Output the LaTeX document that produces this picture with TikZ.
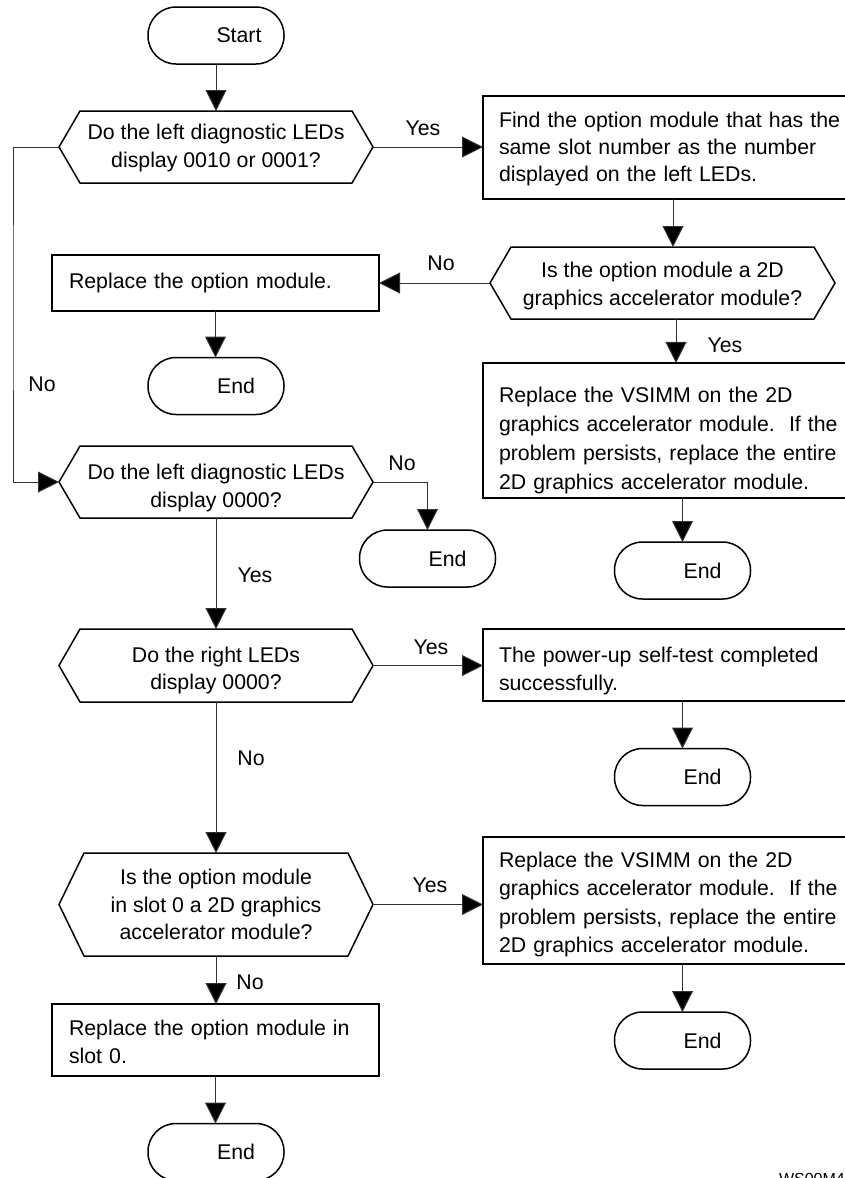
\documentclass[tikz,border=0pt]{standalone}
\usepackage{fontspec}
\setmainfont{Liberation Sans}
\usetikzlibrary{arrows.meta}
\newcommand\hexa[2]{\draw[shapeline] (#1.west) -- ([xshift=#2]#1.north west) -- ([xshift=-#2]#1.north east) -- (#1.east) -- ([xshift=-#2]#1.south east) -- ([xshift=#2]#1.south west) -- cycle;}
\newcommand\dn[1]{\rule{0pt}{#1}}
\tikzset{
  every node/.style={font=\fontsize{21.3}{27.5}\selectfont, outer sep=0pt},
  shapeline/.style={draw=black, line width=1.5pt, line join=miter},
  hexnode/.style={rectangle, draw=none, align=center, inner sep=0pt, minimum width=314pt, minimum height=72pt},
  term/.style={rectangle, draw=black, line width=1.5pt, rounded corners=28pt, minimum width=136pt, minimum height=57pt, inner sep=0pt},
  rbox/.style={rectangle, draw=black, line width=1.5pt, text width=348pt, inner xsep=16pt, inner ysep=4pt, align=left},
  lbox/.style={rectangle, draw=black, line width=1.5pt, text width=293pt, inner xsep=17pt, inner ysep=4pt, align=left},
  arr/.style={draw=black!80, line width=1pt, -{Triangle[length=21pt,width=21pt,fill=black]}},
  lbl/.style={inner sep=0pt}
}
\begin{document}
\begin{tikzpicture}[x=1pt,y=-1pt]
\useasboundingbox (0,0) rectangle (845,1178);
\fill[white] (0,0) rectangle (845,1178);

% terminals
\node[term] (start) at (216,35.5) {\hspace*{46pt}Start};
\node[term] (e1) at (216,386) {\hspace*{40pt}End};
\node[term] (e2) at (427.5,558.5) {\hspace*{40pt}End};
\node[term] (e3) at (682.5,570.5) {\hspace*{40pt}End};
\node[term] (e4) at (682.5,777) {\hspace*{40pt}End};
\node[term] (e5) at (682.5,1040.5) {\hspace*{40pt}End};
\node[term] (e6) at (216,1152) {\hspace*{40pt}End};

% decisions
\node[hexnode] (h1) at (216,147) {\dn{17pt}Do the left diagnostic LEDs\\display 0010 or 0001?};
\node[hexnode, minimum width=345pt] (h2) at (662.5,283) {\dn{21.6pt}Is the option module a 2D\\graphics accelerator module?};
\node[hexnode] (h3) at (216,482) {\dn{27.6pt}Do the left diagnostic LEDs\\display 0000?};
\node[hexnode, minimum height=73pt] (h4) at (216,665.5) {\dn{25.6pt}Do the right LEDs\\display 0000?};
\node[hexnode, minimum height=103pt] (h5) at (216,904.5) {Is the option module\\in slot 0 a 2D graphics\\accelerator module?};
\hexa{h1}{21pt}
\hexa{h2}{21pt}
\hexa{h3}{21pt}
\hexa{h4}{21pt}
\hexa{h5}{25pt}

% process boxes
\node[rbox, minimum height=103pt, font=\fontsize{21.3}{27}\selectfont] (b1) at (673,147.5) {\dn{18pt}Find the option module that has the\\same slot number as the number\\displayed on the left LEDs.};
\node[lbox, minimum height=56pt] (b2) at (215.5,283) {Replace the option module.};
\node[rbox, minimum height=127pt, font=\fontsize{21.3}{29}\selectfont] (b3) at (673,430.5) {\dn{35.6pt}Replace the VSIMM on the 2D\\graphics accelerator module.\ \ If the\\problem persists, replace the entire\\2D graphics accelerator module.};
\node[rbox, minimum height=72pt] (b4) at (673,665) {\dn{27.6pt}The power-up self-test completed\\successfully.};
\node[rbox, minimum height=127pt, font=\fontsize{21.3}{28.4}\selectfont] (b5) at (673,900.5) {\dn{23.6pt}Replace the VSIMM on the 2D\\graphics accelerator module.\ \ If the\\problem persists, replace the entire\\2D graphics accelerator module.};
\node[lbox, minimum height=72pt] (b6) at (215.5,1040) {\dn{19pt}Replace the option module in\\slot 0.};

% helper coordinates
\coordinate (lft) at (13,300);
\coordinate (c23) at (676,319);

% connectors
\draw[arr] (start) -- (h1);
\draw[arr] (h1.east) -- (h1.east -| b1.west);
\draw[arr] (h1.west) -| (lft) |- (h3.west);
\draw[arr] (b1.south) -- (b1.south |- h2.north);
\draw[arr] (h2.west) -- (h2.west -| b2.east);
\draw[arr] (b2.south) -- (b2.south |- e1.north);
\draw[arr] (c23) -- (c23 |- b3.north);
\draw[arr] (e3.north |- b3.south) -- (e3.north);
\draw[arr] (h3.east) -| (e2.north);
\draw[arr] (h3.south) -- (h4.north);
\draw[arr] (h4.east) -- (h4.east -| b4.west);
\draw[arr] (e4.north |- b4.south) -- (e4.north);
\draw[arr] (h4.south) -- (h5.north);
\draw[arr] (h5.east) -- (h5.east -| b5.west);
\draw[arr] (e5.north |- b5.south) -- (e5.north);
\draw[arr] (h5.south) -- (h5.south |- b6.north);
\draw[arr] (b6.south) -- (b6.south |- e6.north);

% labels
\node[lbl] (l1) at (423,128) {Yes};
\node[lbl] (l2) at (42,384) {No};
\node[lbl] (l3) at (441,263) {No};
\node[lbl] (l4) at (725,345) {Yes};
\node[lbl] (l5) at (402,463) {No};
\node[lbl] (l6) at (255,575) {Yes};
\node[lbl] (l7) at (431,647) {Yes};
\node[lbl] (l8) at (251,758) {No};
\node[lbl] (l9) at (430,885) {Yes};
\node[lbl] (l10) at (250,982) {No};

\node[anchor=north west, inner sep=0pt, font=\fontsize{16}{16}\selectfont] (ws) at (779,1173) {WS00M4};
\end{tikzpicture}
\end{document}
